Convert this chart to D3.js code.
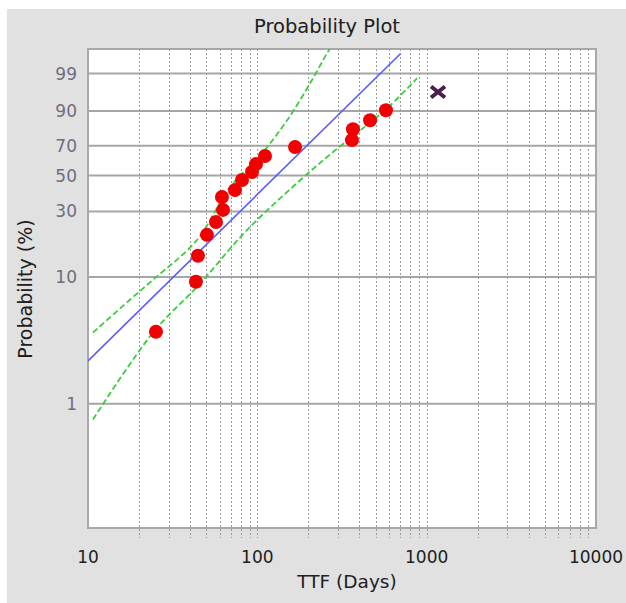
<!DOCTYPE html>
<html>
<head>
<meta charset="utf-8">
<script src="https://cdn.jsdelivr.net/npm/d3@7"></script>
<style>
	body{margin:0;background:#fff}
	svg text{font-family:"DejaVu Sans",sans-serif}
</style>
</head>
<body>
<svg width="626" height="603"></svg>
<script>
// failures (days, median rank %)
const ttf = [25.2, 43.4, 44.6, 50.4, 57, 62.7, 61.8, 73.8, 81.2, 93, 98.2, 111, 167, 362, 367, 463, 575]
const prob = [3.75, 9.2, 14.5, 20.6, 25.4, 30.7, 37.2, 41.1, 47.2, 52.3, 57.6, 63.1, 69.2, 73.8, 80.6, 85.6, 90.3]
// suspended / excluded point
const suspTTF = [1167]
const suspProb = [96.2]
// fitted line and confidence bounds
const fitTTF = [10, 700]
const fitProb = [2.2, 99.87]
const upperTTF = [10.7, 17.7, 24.2, 44, 69, 108, 150, 205, 258, 268]
const upperProb = [3.69, 6.69, 9.53, 18.9, 42.9, 65.8, 85.6, 97.86, 99.878, 99.93]
const lowerTTF = [10.7, 24.2, 45.8, 86.9, 234, 584, 877]
const lowerProb = [0.747, 3.69, 8.88, 22.3, 58.3, 91.1, 98.53]
// axes
const yTicks = [1, 10, 30, 50, 70, 90, 99]
const xTicks = [10, 100, 1000, 10000]

const weib = p => Math.log(-Math.log(1 - p/100))
const L = 88, R = 596, T = 49, B = 528

const x = d3.scaleLog().domain([10, 10000]).range([L, R])
const y = d3.scaleLinear().domain([weib(0.1), weib(99.93)]).range([B, T])

const svg = d3.select("svg")
svg.append("rect").attr("x", 7).attr("y", 9).attr("width", 619).attr("height", 594).attr("fill", "#e1e1e1")

svg.append("defs").append("clipPath").attr("id", "plot")
	.append("rect").attr("x", L).attr("y", T).attr("width", R-L).attr("height", B-T)

svg.append("rect")
	.attr("x", L).attr("y", T).attr("width", R-L).attr("height", B-T)
	.attr("fill", "white")

// minor vertical grid, dotted, runs a bit below the frame
let minor = []
for(let d of [10, 100, 1000])
	for(let k=2; k<=10; k++)
		if(d*k < 10000) minor.push(d*k)
svg.append("g").selectAll("line").data(minor).join("line")
	.attr("x1", d=>Math.round(x(d))+0.5).attr("x2", d=>Math.round(x(d))+0.5)
	.attr("y1", T).attr("y2", B+10)
	.attr("stroke", "#9a9a9a").attr("stroke-dasharray", "2,2")

svg.append("g").selectAll("line").data(yTicks).join("line")
	.attr("x1", L).attr("x2", R)
	.attr("y1", d=>y(weib(d))).attr("y2", d=>y(weib(d)))
	.attr("stroke", "#a6a6a6").attr("stroke-width", 2)

svg.append("rect")
	.attr("x", L).attr("y", T).attr("width", R-L).attr("height", B-T)
	.attr("fill", "none").attr("stroke", "#a8a8a8").attr("stroke-width", 2)

const plot = svg.append("g").attr("clip-path", "url(#plot)")
const line = d3.line().x(d=>x(d[0])).y(d=>y(weib(d[1])))

plot.append("path")
	.attr("d", line(fitTTF.map((t,i)=>[t, fitProb[i]])))
	.attr("fill", "none").attr("stroke", "#5a5aff").attr("stroke-width", 1.6)

const bound = d3.line().x(d=>x(d[0])).y(d=>y(weib(d[1]))).curve(d3.curveCatmullRom)
for(let [tt, pp] of [[upperTTF, upperProb], [lowerTTF, lowerProb]])
	plot.append("path")
		.attr("d", bound(tt.map((t,i)=>[t, pp[i]])))
		.attr("fill", "none").attr("stroke", "#3ccc3c").attr("stroke-width", 1.8)
		.attr("stroke-dasharray", "6,3")

plot.append("g").selectAll("circle").data(ttf.map((t,i)=>[t, prob[i]])).join("circle")
	.attr("cx", d=>x(d[0])).attr("cy", d=>y(weib(d[1])))
	.attr("r", 7).attr("fill", "#f00000")

plot.append("g").selectAll("path").data(suspTTF.map((t,i)=>[t, suspProb[i]])).join("path")
	.attr("transform", d=>`translate(${x(d[0])},${y(weib(d[1]))})`)
	.attr("d", "M-7,-5.5L7,5.5M-7,5.5L7,-5.5")
	.attr("stroke", "#4a1f4c").attr("stroke-width", 4)

// labels
svg.append("g").selectAll("text").data(yTicks).join("text")
	.attr("x", 77).attr("y", d=>y(weib(d))+6)
	.attr("text-anchor", "end").attr("font-size", 17).attr("fill", "#6e6e80")
	.text(d=>d)

svg.append("g").selectAll("text").data(xTicks).join("text")
	.attr("x", d=>x(d)).attr("y", 563)
	.attr("text-anchor", "middle").attr("font-size", 17).attr("fill", "#202020")
	.text(d=>d)

svg.append("text").attr("x", 327).attr("y", 33)
	.attr("text-anchor", "middle").attr("font-size", 19.5).attr("fill", "#202020")
	.text("Probability Plot")

svg.append("text").attr("x", 347).attr("y", 588)
	.attr("text-anchor", "middle").attr("font-size", 18.5).attr("fill", "#202020")
	.text("TTF (Days)")

svg.append("text").attr("transform", "translate(32,289) rotate(-90)")
	.attr("text-anchor", "middle").attr("font-size", 19).attr("fill", "#202020")
	.text("Probability (%)")
</script>
</body>
</html>
